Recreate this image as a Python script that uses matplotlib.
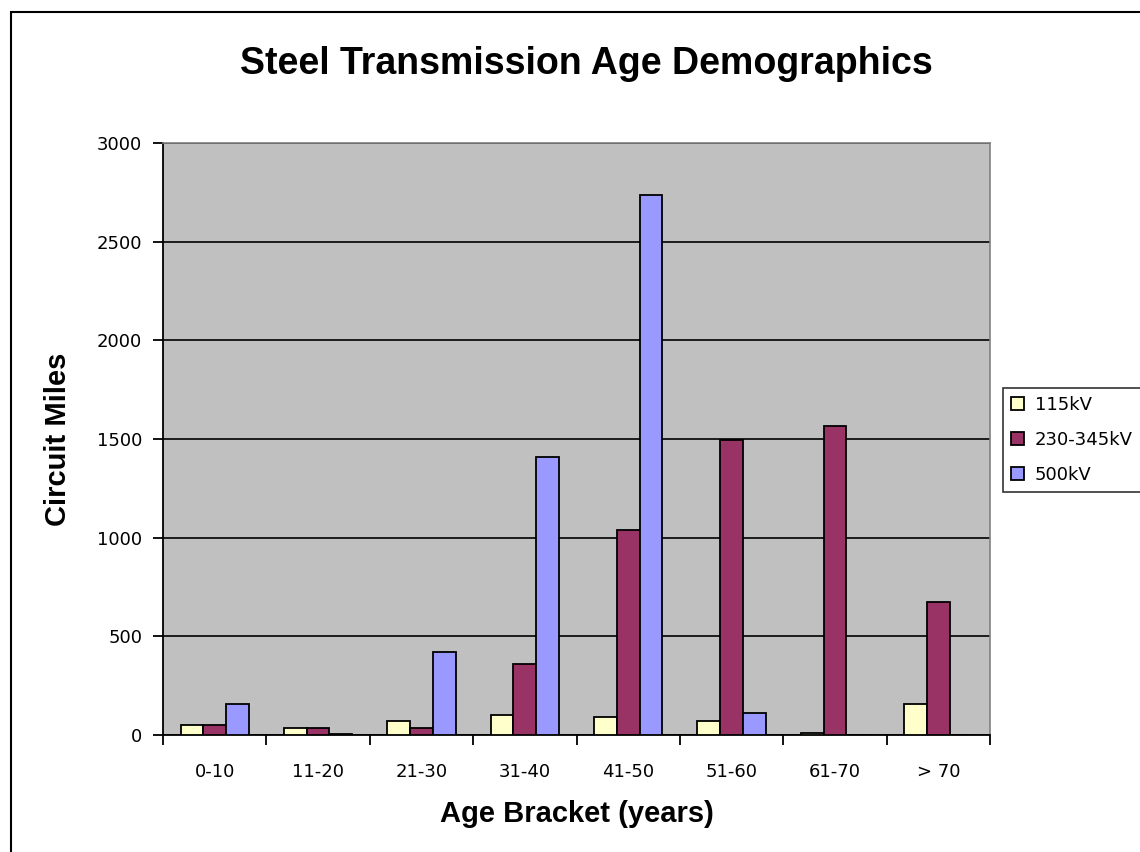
import numpy as np
import matplotlib.pyplot as plt
from matplotlib.patches import Rectangle

plt.rcParams['font.family'] = ['Liberation Sans', 'DejaVu Sans']

# Data
age_brackets = ["0-10", "11-20", "21-30", "31-40", "41-50", "51-60", "61-70", "> 70"]
kv115 = [50, 35, 70, 100, 90, 70, 10, 155]
kv230_345 = [50, 35, 35, 360, 1040, 1495, 1565, 675]
kv500 = [157, 5, 420, 1410, 2735, 110, 0, 0]

series_names = ["115kV", "230-345kV", "500kV"]
colors = ["#FFFFCC", "#993366", "#9999FF"]

fig = plt.figure(figsize=(11.4, 8.52), dpi=100)
ax = fig.add_axes([163/1140, 1 - 735/852, (990 - 163)/1140, (735 - 143)/852])
ax.set_facecolor("#C0C0C0")

x = np.arange(len(age_brackets))
w = 0.22
for i, (vals, name, c) in enumerate(zip([kv115, kv230_345, kv500], series_names, colors)):
    ax.bar(x + (i - 1) * w, vals, width=w, color=c, edgecolor="black",
           linewidth=1.3, label=name, zorder=3)

ax.set_xlim(-0.5, len(age_brackets) - 0.5)
ax.set_ylim(0, 3000)
ax.set_yticks(np.arange(0, 3001, 500))
ax.yaxis.grid(True, color="black", linewidth=1.2, zorder=1)
ax.set_axisbelow(True)

ax.set_xticks(x)
ax.set_xticklabels(age_brackets, family="DejaVu Sans")
ax.set_xticks(np.arange(-0.5, len(age_brackets)), minor=True)
ax.tick_params(axis="x", which="major", length=0, pad=20, labelsize=13)
ax.tick_params(axis="x", which="minor", length=7, width=1.3, direction="out")
ax.tick_params(axis="y", length=7, width=1.3, direction="out", labelsize=13, pad=8)
ax.yaxis.set_major_formatter(plt.FormatStrFormatter("%d"))
for lab in ax.get_yticklabels():
    lab.set_family("DejaVu Sans")

for s in ["top", "right"]:
    ax.spines[s].set_color("#808080")
    ax.spines[s].set_linewidth(1.2)
for s in ["left", "bottom"]:
    ax.spines[s].set_color("black")
    ax.spines[s].set_linewidth(1.3)

ax.set_ylabel("Circuit Miles", fontsize=21, fontweight="bold", labelpad=18)
ax.set_xlabel("Age Bracket (years)", fontsize=21, fontweight="bold", labelpad=14)
fig.text(586/1140, 1 - 64/852, "Steel Transmission Age Demographics",
         ha="center", va="center", fontsize=27, fontweight="bold")

leg = fig.legend(loc="upper left", bbox_to_anchor=(1003/1140, 1 - 388/852),
                 frameon=True, fancybox=False, edgecolor="black",
                 prop={"family": "DejaVu Sans", "size": 13},
                 handlelength=0.7, handleheight=0.7, handletextpad=0.6,
                 borderpad=0.45, labelspacing=0.93, borderaxespad=0)
leg.get_frame().set_linewidth(1.2)

# outer chart border (cut off at the right and bottom)
fig.patches.append(Rectangle((11/1140, -0.1), 1.2, 1 - 12/852 + 0.1,
                             transform=fig.transFigure, fill=False,
                             edgecolor="black", linewidth=1.5))

fig.savefig("out.png", dpi=100)
